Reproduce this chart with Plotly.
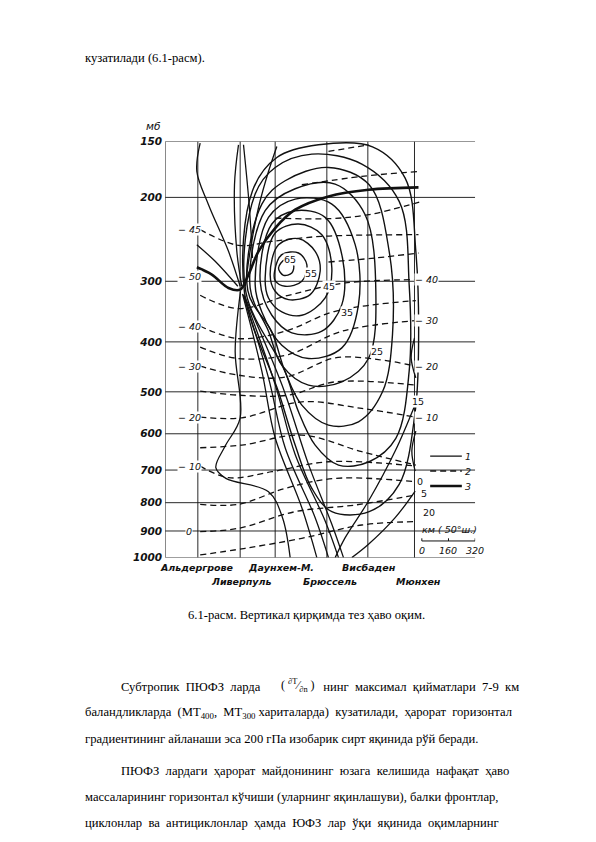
import numpy as np
import plotly.graph_objects as go

# Chart coordinates: x = distance along the section (digitized units),
# y = digitized height units; pressure levels mapped through grid rows below
levels = [150, 200, 300, 400, 500, 600, 700, 800, 900, 1000]
level_y = [70, 238, 490, 672, 822, 948, 1057, 1155, 1240, 1320]

stations_top = ["Альдергрове", "Даунхем-М.", "Висбаден"]
stations_bot = ["Ливерпуль", "Брюссель", "Мюнхен"]
station_x = [208, 335, 440, 595, 718, 858]

# isotachs (m/s), solid
isotachs = {
    65: [(450, 450), (470, 425), (495, 440), (490, 465), (465, 472), (450, 450)],
    60: [(438, 462), (460, 410), (510, 405), (535, 440), (520, 490), (470, 505), (440, 488), (438, 462)],
    55: [(425, 470), (450, 380), (510, 362), (560, 400), (575, 460), (545, 530), (480, 545), (440, 520), (425, 470)],
    50: [(410, 480), (440, 345), (510, 318), (580, 350), (610, 450), (590, 540), (520, 592), (460, 582), (420, 540), (410, 480)],
    45: [(395, 490), (430, 318), (500, 278), (590, 298), (642, 420), (640, 560), (580, 640), (490, 645), (430, 592), (395, 490)],
    40: [(380, 500), (420, 298), (500, 243), (610, 258), (680, 380), (690, 560), (640, 690), (540, 722), (460, 682), (400, 582), (380, 500)],
    35: [(365, 510), (410, 278), (500, 212), (620, 198), (710, 290), (742, 520), (720, 722), (640, 792), (540, 802), (460, 742), (420, 640), (365, 510)],
    30: [(358, 518), (400, 258), (470, 188), (600, 148), (722, 200), (782, 400), (792, 650), (762, 822), (690, 912), (600, 922), (520, 862), (470, 762), (430, 642), (358, 518)],
    25: [(352, 522), (380, 228), (440, 148), (550, 108), (700, 138), (812, 250), (842, 500), (842, 760), (802, 962), (722, 1032), (630, 1042), (560, 982), (510, 882), (470, 762), (352, 522)],
    20: [(348, 524), (372, 218), (445, 118), (570, 80), (732, 86), (830, 180), (862, 400), (870, 700), (860, 882), (812, 1100), (722, 1182), (610, 1182), (550, 1112), (500, 982), (450, 822), (348, 524)],
}
open_lines = [
    [(215, 75), (205, 160), (240, 260), (300, 400), (335, 505)],
    [(330, 80), (318, 200), (325, 400), (340, 505)],
    [(345, 80), (362, 260), (372, 420)],
    [(445, 85), (420, 160), (392, 260), (368, 380), (350, 505)],
    [(205, 380), (260, 430), (328, 505)],
    [(336, 520), (320, 700), (335, 900), (290, 985), (262, 1050), (292, 1082), (420, 1122), (462, 1200), (485, 1320)],
    [(342, 528), (400, 760), (440, 960), (520, 1170), (565, 1320)],
    [(344, 530), (420, 780), (470, 990), (560, 1200), (600, 1320)],
    [(346, 532), (440, 800), (500, 1010), (590, 1210), (630, 1320)],
    [(348, 534), (460, 800), (540, 1040), (610, 1220), (645, 1320)],
    [(860, 860), (800, 1000), (720, 1150), (650, 1260), (620, 1320)],
    [(860, 1120), (800, 1200), (720, 1280), (670, 1320)],
    [(862, 940), (850, 1000), (860, 1060)],
    [(858, 660), (848, 720), (862, 780)],
]
isotach_labels = [("65", 485, 425), ("55", 548, 468), ("45", 600, 505), ("35", 655, 585),
                  ("25", 745, 700), ("15", 868, 850), ("0", 875, 1092), ("5", 885, 1128), ("20", 900, 1185)]

# isotherms (°C), dashed
isotherms = [
    [(215, 335), (330, 382), (430, 370), (580, 355), (870, 350)],
    [(440, 300), (600, 302), (720, 290), (880, 250)],
    [(520, 200), (700, 175), (870, 160)],
    [(600, 100), (720, 80)],
    [(600, 432), (740, 420), (870, 405)],
    [(215, 532), (330, 572), (480, 532), (650, 495), (870, 485)],
    [(215, 625), (330, 662), (470, 640), (620, 580), (862, 548)],
    [(215, 688), (330, 722), (480, 710), (640, 640), (862, 608)],
    [(215, 745), (330, 772), (470, 778), (620, 720), (750, 725), (862, 745)],
    [(215, 820), (330, 832), (480, 832), (620, 792), (862, 802)],
    [(215, 898), (340, 900), (520, 852), (700, 872), (862, 898)],
    [(215, 990), (340, 982), (520, 952), (700, 1002), (862, 1042)],
    [(215, 1045), (300, 1080), (430, 1062), (600, 1032), (862, 1045)],
    [(215, 1160), (330, 1160), (470, 1112), (620, 1082), (862, 1092)],
    [(215, 1242), (330, 1232), (500, 1182), (680, 1162), (862, 1132)],
    [(215, 1312), (350, 1292), (520, 1262), (700, 1222), (862, 1212)],
]
left_t = [("-45", 335), ("-50", 475), ("-40", 625), ("-30", 745), ("-20", 898), ("-10", 1045), ("0", 1242)]
right_t = [("-40", 485), ("-30", 608), ("-20", 745), ("-10", 898)]

tropopause = [(205, 448), (250, 470), (300, 510), (335, 515), (360, 470), (390, 400),
              (440, 330), (500, 275), (600, 235), (720, 215), (870, 208)]

# page pixel -> paper, corrected for how the browser places the figure
def px(x):
    return (x - 1.5 - 8) / 596
def py(y):
    return 1 - ((y - 7.8) / 0.987 - 8) / 842
def zp(zx, zy):  # digitized units -> page pixels
    return zx / 3 + 130, zy / 3 + 120

XR = [110, 1040]
fig = go.Figure()
ink = "#111"

def add(pts, width=1.4, dash="solid"):
    fig.add_trace(go.Scatter(x=[p[0] for p in pts], y=[p[1] for p in pts], mode="lines",
                             line=dict(color=ink, width=width, dash=dash, shape="spline", smoothing=1.0),
                             hoverinfo="skip", showlegend=False))

# grid
for y in level_y:
    fig.add_trace(go.Scatter(x=XR, y=[y, y], mode="lines", line=dict(color=ink, width=0.9), showlegend=False))
for x in [110] + station_x:
    fig.add_trace(go.Scatter(x=[x, x], y=[70, 1320], mode="lines", line=dict(color=ink, width=0.9), showlegend=False))
for x in station_x[1::2]:
    fig.add_trace(go.Scatter(x=[x, x], y=[1320, 1352], mode="lines", line=dict(color=ink, width=0.9),
                             showlegend=False, cliponaxis=False))

for pts in isotachs.values():
    add(pts, 1.4)
for pts in open_lines:
    add(pts, 1.3)
for pts in isotherms:
    add(pts, 1.3, "6px,4px")
add(tropopause, 2.6)

# legend samples
for i, (dash, w) in enumerate([("solid", 1.4), ("6px,4px", 1.4), ("solid", 2.6)]):
    yy = 1015 + i * 45
    fig.add_trace(go.Scatter(x=[905, 1000], y=[yy, yy], mode="lines", line=dict(color=ink, width=w, dash=dash),
                             showlegend=False, cliponaxis=False))
fig.add_trace(go.Scatter(x=[880, 960, 1040, None, 880, 880, None, 960, 960, None, 1040, 1040],
                         y=[1270, 1270, 1270, None, 1262, 1270, None, 1262, 1270, None, 1262, 1270],
                         mode="lines", line=dict(color=ink, width=1), showlegend=False, cliponaxis=False))

fig.update_xaxes(range=XR, domain=[px(zp(110, 0)[0]), px(zp(1040, 0)[0])], visible=False)
fig.update_yaxes(range=[1320, 70], domain=[py(zp(0, 1320)[1]), py(zp(0, 70)[1])],
                 tickvals=level_y, ticktext=["<b><i>%d</i></b>" % v for v in levels],
                 showgrid=False, zeroline=False, showline=False, ticks="", ticklabelstandoff=2,
                 tickfont=dict(family="DejaVu Sans", size=10.5, color=ink))

ann = []
cf = dict(family="DejaVu Sans", size=9.5, color=ink)
sf = dict(family="DejaVu Sans", size=9.5, color=ink)
def lab(t, zx, zy, bg=True, **kw):
    x, y = zp(zx, zy)
    d = dict(x=px(x), y=py(y), xref="paper", yref="paper", text=t, showarrow=False, font=cf, borderpad=0,
             xanchor="center", yanchor="middle")
    if bg:
        d["bgcolor"] = "white"
    d.update(kw)
    ann.append(d)

for t, x, y in isotach_labels:
    lab(t, x, y)
for t, y in left_t:
    lab("<i>" + t.replace("-", "− ") + "</i>", 182, y)
for t, y in right_t:
    lab("<i>" + t.replace("-", "− ") + "</i>", 895, y)
for i, t in enumerate(["1", "2", "3"]):
    lab("<i>" + t + "</i>", 1018, 1015 + i * 45, bg=False)
lab("<i>км ( 50°ш.)</i>", 962, 1235, bg=False)
for t, x in [("0", 880), ("160", 960), ("320", 1040)]:
    lab("<i>" + t + "</i>", x, 1298, bg=False)
for t, x in zip(stations_top, [205, 457, 720]):
    lab("<b><i>" + t + "</i></b>", x, 1350, bg=False, font=sf)
for t, x in zip(stations_bot, [340, 605, 870]):
    lab("<b><i>" + t + "</i></b>", x, 1392, bg=False, font=sf)
lab("<i>мб</i>", 75, 25, bg=False, font=dict(family="DejaVu Sans", size=10.5, color=ink))

# page text
tf = dict(family="Liberation Serif", size=12.6, color="#000")
page = [
    (84, 60, "кузатилади (6.1-расм)."),
    (187, 617, "6.1-расм. Вертикал қирқимда тез ҳаво оқим."),
    (120, 690, "Субтропик  ПЮФЗ  ларда                    нинг  максимал  қийматлари  7-9  км"),
    (84, 716, "баландликларда  (МТ<sub>400</sub>,  МТ<sub>300</sub> хариталарда)  кузатилади,  ҳарорат  горизонтал"),
    (84, 742, "градиентининг айланаши эса 200 гПа изобарик сирт яқинида рўй беради."),
    (120, 774, "ПЮФЗ  лардаги  ҳарорат  майдонининг  юзага  келишида  нафақат  ҳаво"),
    (84, 800, "массаларининг горизонтал кўчиши (уларнинг яқинлашуви), балки фронтлар,"),
    (84, 826, "циклонлар  ва  антициклонлар  ҳамда  ЮФЗ  лар  ўқи  яқинида  оқимларнинг"),
]
for x, y, t in page:
    ann.append(dict(x=px(x), y=py(y), xref="paper", yref="paper", text=t, showarrow=False,
                    xanchor="left", yanchor="middle", font=tf))
ann.append(dict(x=px(299), y=py(688), xref="paper", yref="paper", showarrow=False, yanchor="middle",
                xanchor="center",
                text="( <sup>∂T</sup>⁄<sub>∂n</sub> )", font=dict(family="Liberation Serif", size=12, color="#000")))
fig.update_layout(annotations=ann, width=596, height=842, margin=dict(l=0, r=0, t=0, b=0),
                  paper_bgcolor="white", plot_bgcolor="white")
fig.write_html("out.html")
